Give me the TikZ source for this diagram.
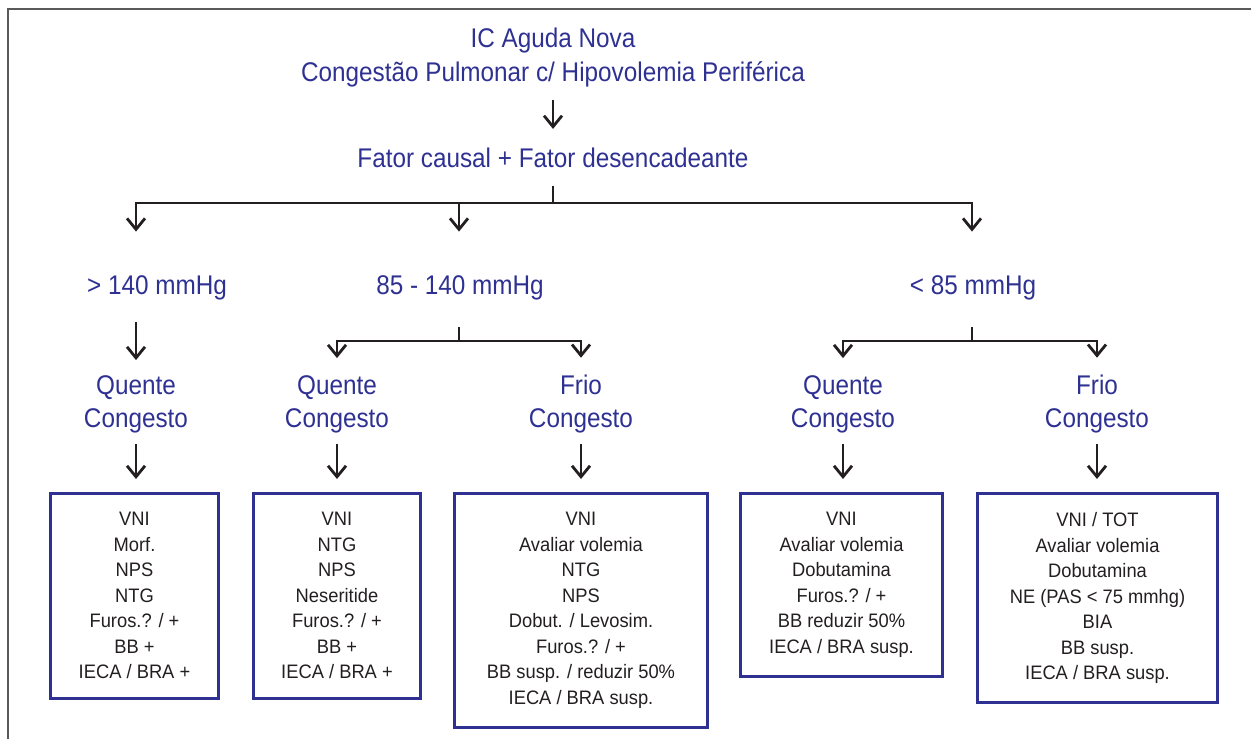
\documentclass[tikz,border=0pt]{standalone}
\usepackage{fontspec}
\setmainfont{Liberation Sans}
\newfontfamily\fonteazul{Liberation Sans}[FakeStretch=0.9]
\newfontfamily\fontecaixa{Liberation Sans}[FakeStretch=0.94]
\usetikzlibrary{arrows.meta}
\definecolor{azul}{HTML}{2E3192}
\definecolor{preto}{HTML}{231F20}
\definecolor{moldura}{HTML}{5A5A5A}
\tikzset{
        rotulo/.style={text=azul, inner sep=0pt, align=center, font=\fonteazul\fontsize{27}{33}\selectfont},
        caixa/.style={draw=azul, line width=3pt, text=preto, align=center, anchor=north,
                inner xsep=4pt, inner ysep=19pt, font=\fontecaixa\fontsize{19.5}{25.5}\selectfont},
        linha/.style={draw=preto, line width=2.8pt},
        seta/.style={linha, -{Straight Barb[length=11pt,width=18pt]}}
}

\begin{document}
\begin{tikzpicture}[x=1pt, y=-1pt]
        \useasboundingbox (0,0) rectangle (1251,739);
        \draw[moldura, line width=2pt] (8,739) -- (8,9) -- (1251,9);

        \node[rotulo, font=\fonteazul\fontsize{27}{34}\selectfont] (titulo) at (553,58)
                {IC Aguda Nova\\Congestão Pulmonar c/ Hipovolemia Periférica};
        \node[rotulo] (fator) at (553,158) {Fator causal + Fator desencadeante};

        \node[rotulo] (r140) at (157,288) {> 140 mmHg};
        \node[rotulo] (r85140) at (460,288) {85 - 140 mmHg};
        \node[rotulo] (r85) at (973,288) {< 85 mmHg};

        \node[rotulo] (q1) at (136,404) {Quente\\Congesto};
        \node[rotulo] (q2) at (337,404) {Quente\\Congesto};
        \node[rotulo] (f2) at (581,404) {Frio\\Congesto};
        \node[rotulo] (q3) at (843,404) {Quente\\Congesto};
        \node[rotulo] (f3) at (1097,404) {Frio\\Congesto};

        \node[caixa, minimum width=168pt] (b1) at (134.5,492)
                {VNI\\Morf.\\NPS\\NTG\\Furos.? / +\\BB +\\IECA / BRA +};
        \node[caixa, minimum width=167pt] (b2) at (337,492)
                {VNI\\NTG\\NPS\\Neseritide\\Furos.? / +\\BB +\\IECA / BRA +};
        \node[caixa, minimum width=253pt] (b3) at (581,492)
                {VNI\\Avaliar volemia\\NTG\\NPS\\Dobut. / Levosim.\\Furos.? / +\\BB susp. / reduzir 50\%\\IECA / BRA susp.};
        \node[caixa, minimum width=202pt] (b4) at (841.5,492)
                {VNI\\Avaliar volemia\\Dobutamina\\Furos.? / +\\BB reduzir 50\%\\IECA / BRA susp.};
        \node[caixa, minimum width=240pt] (b5) at (1097.5,492)
                {VNI / TOT\\Avaliar volemia\\Dobutamina\\NE (PAS < 75 mmhg)\\BIA\\BB susp.\\IECA / BRA susp.};

        \coordinate (bus) at (553,203);
        \coordinate (div2) at (459,341);
        \coordinate (div3) at (972,341);

        \draw[seta, shorten <=12pt, shorten >=19pt] (titulo) -- (fator);
        \draw[linha, shorten <=18pt] (fator) -- (bus);
        \draw[seta, shorten >=44pt] (bus) -| (q1 |- r140.north);
        \draw[seta, shorten >=44pt] (bus) -| (div2 |- r85140.north);
        \draw[seta, shorten >=44pt] (bus) -| (div3 |- r85.north);

        \draw[seta, shorten <=22pt, shorten >=15pt] (q1 |- r140.south) -- (q1);
        \draw[linha, shorten <=27pt] (div2 |- r85140.south) -- (div2);
        \draw[seta, shorten >=17pt] (div2) -| (q2);
        \draw[seta, shorten >=17pt] (div2) -| (f2);
        \draw[linha, shorten <=27pt] (div3 |- r85.south) -- (div3);
        \draw[seta, shorten >=17pt] (div3) -| (q3);
        \draw[seta, shorten >=17pt] (div3) -| (f3);

        \draw[seta, shorten <=11pt, shorten >=13pt] (q1) -- (q1 |- b1.north);
        \draw[seta, shorten <=11pt, shorten >=13pt] (q2) -- (q2 |- b2.north);
        \draw[seta, shorten <=11pt, shorten >=13pt] (f2) -- (f2 |- b3.north);
        \draw[seta, shorten <=11pt, shorten >=13pt] (q3) -- (q3 |- b4.north);
        \draw[seta, shorten <=11pt, shorten >=13pt] (f3) -- (f3 |- b5.north);
\end{tikzpicture}
\end{document}
